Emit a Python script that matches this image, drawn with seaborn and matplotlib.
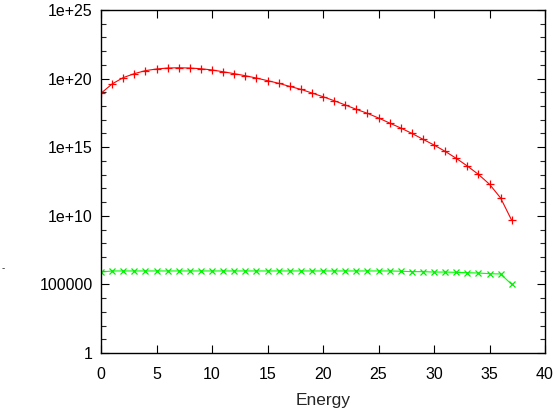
import numpy as np
import pandas as pd
import matplotlib
matplotlib.use("Agg")
import matplotlib.pyplot as plt
import seaborn as sns
from matplotlib.ticker import FixedLocator, NullLocator, NullFormatter

# ---- data (log10 of values) ----
energy = list(range(38))
red_log10 = [18.93, 19.61, 20.07, 20.36, 20.58, 20.70, 20.77, 20.79, 20.77, 20.72,
             20.63, 20.50, 20.36, 20.21, 20.04, 19.85, 19.66, 19.43, 19.22, 18.95,
             18.68, 18.39, 18.08, 17.76, 17.47, 17.13, 16.76, 16.40, 16.01, 15.58,
             15.16, 14.70, 14.19, 13.63, 13.02, 12.30, 11.30, 9.67]
green_log10 = [5.90, 5.98, 5.98, 5.98, 5.98, 5.98, 5.98, 5.98, 5.98, 5.98,
               5.98, 5.98, 5.98, 5.98, 5.98, 5.98, 5.98, 5.98, 5.98, 5.98,
               5.98, 5.98, 5.98, 5.98, 5.98, 5.98, 5.98, 5.96, 5.93, 5.93,
               5.90, 5.90, 5.88, 5.85, 5.83, 5.78, 5.76, 5.00]
x_ticks = [0, 5, 10, 15, 20, 25, 30, 35, 40]
y_ticks = [1e0, 1e5, 1e10, 1e15, 1e20, 1e25]
y_tick_labels = ["1", "100000", "1e+10", "1e+15", "1e+20", "1e+25"]
x_label = "Energy"

df = pd.DataFrame({
    "Energy": energy,
    "red": [10 ** v for v in red_log10],
    "green": [10 ** v for v in green_log10],
})

sns.set_style("ticks")
plt.rcParams["font.family"] = ["Liberation Sans", "DejaVu Sans"]

fig = plt.figure(figsize=(5.58, 4.12), dpi=100)
ax = fig.add_axes([101 / 558, 1 - 353 / 412, (545 - 101) / 558, (353 - 10) / 412])

sns.lineplot(data=df, x="Energy", y="red", ax=ax, color="#ff0000", marker="+",
             markersize=5.5, markeredgewidth=0.9, linewidth=0.8, markeredgecolor="#ff0000")
sns.lineplot(data=df, x="Energy", y="green", ax=ax, color="#00ff00", marker="x",
             markersize=4, markeredgewidth=0.9, linewidth=0.8, markeredgecolor="#00ee00")

ax.set_yscale("log")
ax.set_xlim(0, 40)
ax.set_ylim(1, 1e25)
ax.xaxis.set_major_locator(FixedLocator(x_ticks))
ax.xaxis.set_minor_locator(NullLocator())
ax.set_xticklabels([str(t) for t in x_ticks])
ax.yaxis.set_major_locator(FixedLocator(y_ticks))
ax.yaxis.set_minor_locator(FixedLocator([10.0 ** k for k in range(26) if k % 5 != 0]))
ax.yaxis.set_minor_formatter(NullFormatter())
ax.set_yticklabels(y_tick_labels)

for s in ax.spines.values():
    s.set_linewidth(1.0)
    s.set_color("black")
ax.tick_params(axis="both", which="major", direction="in", length=6, width=0.8,
               top=True, right=True, labelsize=11.5, colors="black")
ax.tick_params(axis="x", which="major", pad=10)
ax.tick_params(axis="y", which="major", pad=6)
ax.tick_params(axis="both", which="minor", direction="in", length=3.5, width=0.8,
               top=True, right=True)
ax.set_xlabel(x_label, fontsize=12.5, labelpad=8)
ax.set_ylabel("")

fig.text(0.002, 1 - 268 / 412, "-", fontsize=7, va="center", ha="left")

fig.savefig("out.png", dpi=100)
